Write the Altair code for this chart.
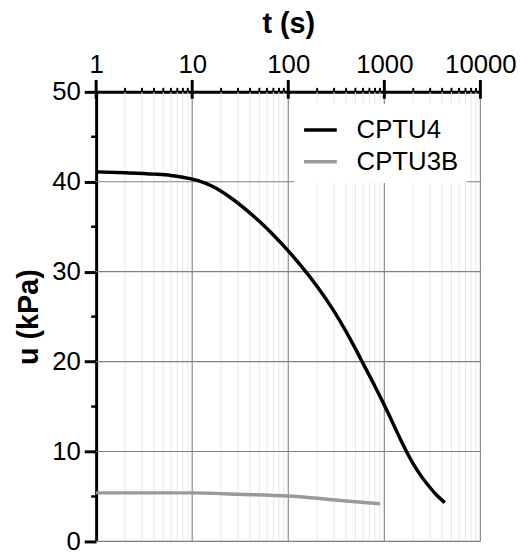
import altair as alt
import pandas as pd

# CPTU4 dissipation curve
t_cptu4 = [1, 2, 4, 6, 8, 10, 13, 16, 20, 25, 35, 50, 70, 100, 140, 200, 300, 400, 500, 600,
           800, 1000, 1200, 1400, 1700, 2000, 2400, 2700, 3000, 3400, 3800, 4260]
u_cptu4 = [41.1, 41.0, 40.85, 40.7, 40.5, 40.3, 39.94, 39.53, 38.95, 38.25, 37.05, 35.6, 34.08,
           32.31, 30.48, 28.35, 25.59, 23.34, 21.44, 19.8, 17.24, 15.16, 13.38, 11.85, 10.01,
           8.63, 7.32, 6.58, 5.97, 5.31, 4.79, 4.32]

# CPTU3B dissipation curve
t_cptu3b = [1, 10, 30, 100, 200, 400, 900]
u_cptu3b = [5.4, 5.4, 5.25, 5.05, 4.8, 4.5, 4.2]

series_names = ["CPTU4", "CPTU3B"]
series_colors = ["#000000", "#999999"]

x_major = [1, 10, 100, 1000, 10000]
x_minor = [m * d for d in [1, 10, 100, 1000] for m in range(2, 10)]
y_major = [0, 10, 20, 30, 40, 50]
y_minor = [5, 15, 25, 35, 45]

curves = pd.DataFrame(
    [{"t": t, "u": u, "series": "CPTU4"} for t, u in zip(t_cptu4, u_cptu4)]
    + [{"t": t, "u": u, "series": "CPTU3B"} for t, u in zip(t_cptu3b, u_cptu3b)]
)
xmaj = pd.DataFrame({"t": x_major})
xgrid = pd.DataFrame({"t": x_major[1:]})
xmin_ = pd.DataFrame({"t": x_minor})
ygrid = pd.DataFrame({"u": y_major[:-1]})
ymin_ = pd.DataFrame({"u": y_minor})

FONT = "Liberation Sans"
xs = alt.Scale(type="log", domain=[1, 10000])
ys = alt.Scale(domain=[0, 50])

x_axis = alt.Axis(
    orient="top", values=x_major, format="d", grid=False, ticks=False,
    labelFontSize=26, labelColor="black", labelPadding=20, labelBaseline="alphabetic",
    labelFont=FONT, labelFlush=False, labelOverlap=False,
    domainColor="black", domainWidth=3,
    title="t (s)", titleFontSize=29, titleFont=FONT, titleFontWeight="bold",
    titleColor="black", titleY=-69, titleBaseline="middle",
)
y_axis = alt.Axis(
    values=y_major, grid=False, tickSize=12, tickWidth=3, tickColor="black",
    labelFontSize=26, labelColor="black", labelPadding=4, labelFont=FONT,
    domainColor="black", domainWidth=3,
    title="u (kPa)", titleFontSize=29, titleFont=FONT, titleFontWeight="bold",
    titleColor="black", titleX=-68, titleBaseline="middle",
)

minor_grid = alt.Chart(xmin_).mark_rule(color="#e8e8e8", strokeWidth=1).encode(
    x=alt.X("t:Q", scale=xs, axis=x_axis), y=alt.value(0), y2=alt.value(454)
)
major_vgrid = alt.Chart(xgrid).mark_rule(color="#8a8a8a", strokeWidth=1.2).encode(
    x=alt.X("t:Q", scale=xs), y=alt.value(0), y2=alt.value(454)
)
hgrid = alt.Chart(ygrid).mark_rule(color="#808080", strokeWidth=1.2).encode(
    y=alt.Y("u:Q", scale=ys, axis=y_axis), x=alt.value(0), x2=alt.value(388)
)
lines = alt.Chart(curves).mark_line(strokeWidth=3.5, interpolate="monotone").encode(
    x=alt.X("t:Q", scale=xs),
    y=alt.Y("u:Q", scale=ys),
    color=alt.Color(
        "series:N",
        scale=alt.Scale(domain=series_names, range=series_colors),
        legend=alt.Legend(
            title=None, orient="none", legendX=200, legendY=12,
            symbolType="stroke", symbolSize=1089, symbolStrokeWidth=3.5,
            labelFontSize=26, labelFont=FONT, labelColor="black",
            labelOffset=18, fillColor="white", padding=8, rowPadding=-3,
        ),
    ),
    detail="series:N",
)
x_minor_ticks = alt.Chart(xmin_).mark_rule(color="black", strokeWidth=2).encode(
    x=alt.X("t:Q", scale=xs), y=alt.value(-4), y2=alt.value(0)
)
x_major_ticks = alt.Chart(xmaj).mark_rule(color="black", strokeWidth=3).encode(
    x=alt.X("t:Q", scale=xs), y=alt.value(-12), y2=alt.value(7)
)
y_minor_ticks = alt.Chart(ymin_).mark_rule(color="black", strokeWidth=2.5).encode(
    y=alt.Y("u:Q", scale=ys), x=alt.value(-5), x2=alt.value(0)
)

chart = alt.layer(
    minor_grid, major_vgrid, hgrid, lines, x_minor_ticks, x_major_ticks, y_minor_ticks
).properties(
    width=388, height=454,
    autosize=alt.AutoSizeParams(type="none"),
    padding={"left": 89, "top": 82, "right": 40, "bottom": 8},
    background="white",
).configure_view(stroke=None)

chart.save("out.html", embed_options={"renderer": "svg", "actions": False})
